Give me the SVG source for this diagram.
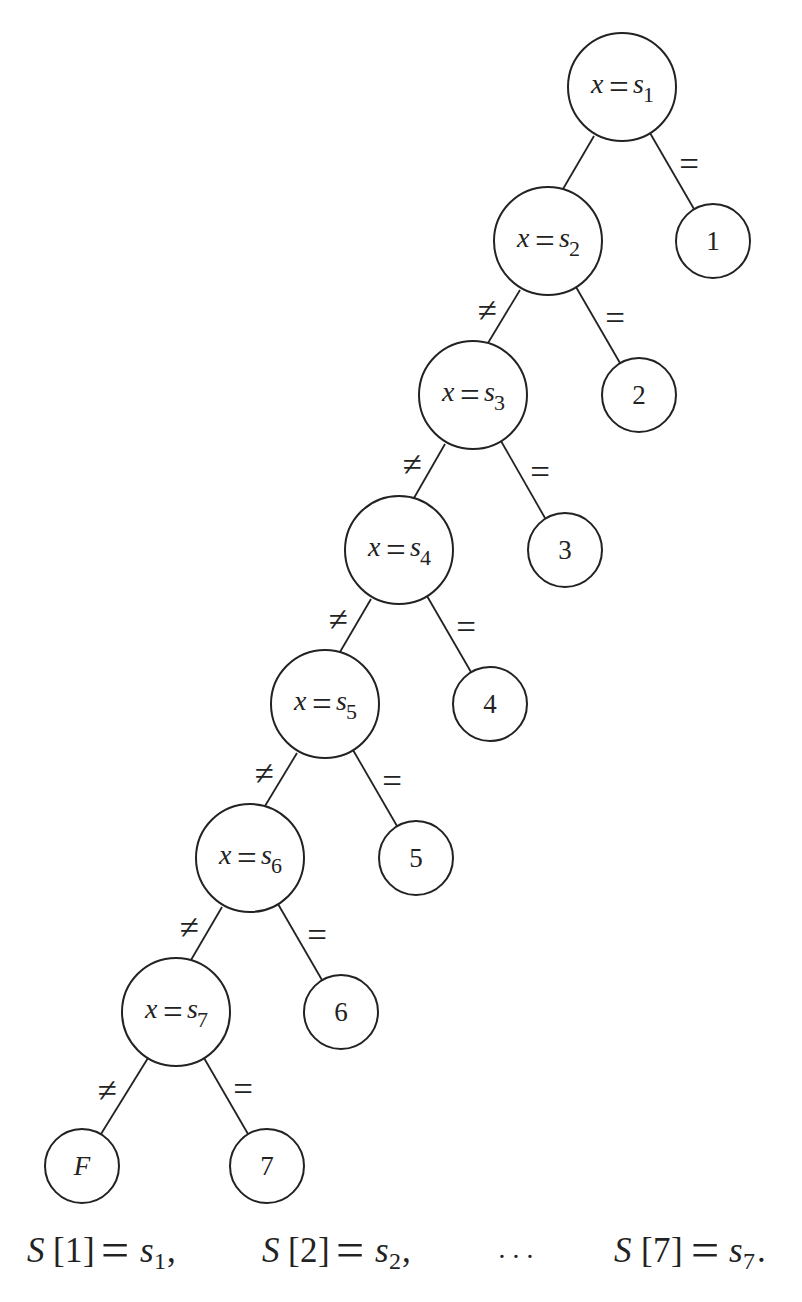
<svg xmlns="http://www.w3.org/2000/svg" width="802" height="1302" viewBox="0 0 802 1302">
<style>
.n{fill:#fff;stroke:#222;stroke-width:2}
.e line{stroke:#222;stroke-width:1.8}
.t{font-family:"Liberation Serif","DejaVu Serif",serif;fill:#222}
.lab{font-size:28px}
.eq{font-size:35px}
.it{font-style:italic}
.sub{font-size:22px}
.dig{font-size:27px;text-anchor:middle}
.el{font-size:35px;text-anchor:middle}
.m{font-size:35px}
.ms{font-size:24px}
.meq{font-size:50px}
</style>
<rect width="802" height="1302" fill="#fff"/>
<g id="edges" class="e">
<line x1="594" y1="136" x2="563" y2="189"/>
<line x1="520" y1="290" x2="488" y2="343"/>
<line x1="445" y1="444" x2="414" y2="498"/>
<line x1="371" y1="599" x2="340" y2="652"/>
<line x1="297" y1="753" x2="265" y2="806"/>
<line x1="222" y1="907" x2="191" y2="960"/>
<line x1="148" y1="1058" x2="101" y2="1134"/>
<line x1="650" y1="133" x2="694" y2="209"/>
<line x1="576" y1="287" x2="620" y2="363"/>
<line x1="501" y1="441" x2="545" y2="518"/>
<line x1="427" y1="596" x2="471" y2="672"/>
<line x1="353" y1="750" x2="397" y2="826"/>
<line x1="278" y1="904" x2="322" y2="980"/>
<line x1="204" y1="1058" x2="248" y2="1134"/>
</g>
<g id="edge-labels" class="t el">
<text x="689" y="176">=</text>
<text x="615" y="330">=</text>
<text x="540" y="484">=</text>
<text x="466" y="639">=</text>
<text x="392" y="793">=</text>
<text x="317" y="947">=</text>
<text x="243" y="1101">=</text>
<text x="487" y="322">≠</text>
<text x="412" y="476">≠</text>
<text x="338" y="631">≠</text>
<text x="264" y="785">≠</text>
<text x="189" y="939">≠</text>
<text x="107" y="1102">≠</text>
</g>
<g id="s1"><circle class="n" cx="622" cy="87" r="54"/><text class="t lab" y="93"><tspan class="it" x="591">x</tspan><tspan class="eq" x="609" y="99">=</tspan><tspan class="it" x="633" y="93">s</tspan><tspan class="sub" x="643" y="102">1</tspan></text></g>
<g id="s2"><circle class="n" cx="548" cy="241" r="54"/><text class="t lab" y="247"><tspan class="it" x="517">x</tspan><tspan class="eq" x="535" y="253">=</tspan><tspan class="it" x="559" y="247">s</tspan><tspan class="sub" x="569" y="256">2</tspan></text></g>
<g id="s3"><circle class="n" cx="473" cy="395" r="54"/><text class="t lab" y="401"><tspan class="it" x="442">x</tspan><tspan class="eq" x="460" y="407">=</tspan><tspan class="it" x="484" y="401">s</tspan><tspan class="sub" x="494" y="410">3</tspan></text></g>
<g id="s4"><circle class="n" cx="399" cy="550" r="54"/><text class="t lab" y="556"><tspan class="it" x="368">x</tspan><tspan class="eq" x="386" y="562">=</tspan><tspan class="it" x="410" y="556">s</tspan><tspan class="sub" x="420" y="565">4</tspan></text></g>
<g id="s5"><circle class="n" cx="325" cy="704" r="54"/><text class="t lab" y="710"><tspan class="it" x="294">x</tspan><tspan class="eq" x="312" y="716">=</tspan><tspan class="it" x="336" y="710">s</tspan><tspan class="sub" x="346" y="719">5</tspan></text></g>
<g id="s6"><circle class="n" cx="250" cy="858" r="54"/><text class="t lab" y="864"><tspan class="it" x="219">x</tspan><tspan class="eq" x="237" y="870">=</tspan><tspan class="it" x="261" y="864">s</tspan><tspan class="sub" x="271" y="873">6</tspan></text></g>
<g id="s7"><circle class="n" cx="176" cy="1012" r="54"/><text class="t lab" y="1018"><tspan class="it" x="145">x</tspan><tspan class="eq" x="163" y="1024">=</tspan><tspan class="it" x="187" y="1018">s</tspan><tspan class="sub" x="197" y="1027">7</tspan></text></g>
<g id="leaf1"><circle class="n" cx="713" cy="241" r="37"/><text class="t dig" x="713" y="250">1</text></g>
<g id="leaf2"><circle class="n" cx="639" cy="395" r="37"/><text class="t dig" x="639" y="404">2</text></g>
<g id="leaf3"><circle class="n" cx="565" cy="550" r="37"/><text class="t dig" x="565" y="559">3</text></g>
<g id="leaf4"><circle class="n" cx="490" cy="704" r="37"/><text class="t dig" x="490" y="713">4</text></g>
<g id="leaf5"><circle class="n" cx="416" cy="858" r="37"/><text class="t dig" x="416" y="867">5</text></g>
<g id="leaf6"><circle class="n" cx="341" cy="1012" r="37"/><text class="t dig" x="341" y="1021">6</text></g>
<g id="leaf7"><circle class="n" cx="267" cy="1166" r="37"/><text class="t dig" x="267" y="1175">7</text></g>
<g id="leafF"><circle class="n" cx="82" cy="1166" r="37"/><text class="t dig it" x="82" y="1175">F</text></g>
<g id="caption" class="t m">
<text y="1262"><tspan class="it" x="27">S</tspan><tspan x="53">[</tspan><tspan x="65">1</tspan><tspan x="83">]</tspan><tspan class="meq" x="101" y="1267">=</tspan><tspan class="it" x="140" y="1262">s</tspan><tspan class="ms" x="154" y="1269">1</tspan><tspan x="167" y="1262">,</tspan></text>
<text y="1262"><tspan class="it" x="262">S</tspan><tspan x="288">[</tspan><tspan x="300">2</tspan><tspan x="318">]</tspan><tspan class="meq" x="336" y="1267">=</tspan><tspan class="it" x="375" y="1262">s</tspan><tspan class="ms" x="389" y="1269">2</tspan><tspan x="402" y="1262">,</tspan></text>
<text y="1266" font-size="28" text-anchor="middle"><tspan x="502">·</tspan><tspan x="516">·</tspan><tspan x="530">·</tspan></text>
<text y="1262"><tspan class="it" x="614">S</tspan><tspan x="641">[</tspan><tspan x="653">7</tspan><tspan x="671">]</tspan><tspan class="meq" x="691" y="1267">=</tspan><tspan class="it" x="729" y="1262">s</tspan><tspan class="ms" x="743" y="1269">7</tspan><tspan x="757" y="1262">.</tspan></text>
</g>
</svg>
